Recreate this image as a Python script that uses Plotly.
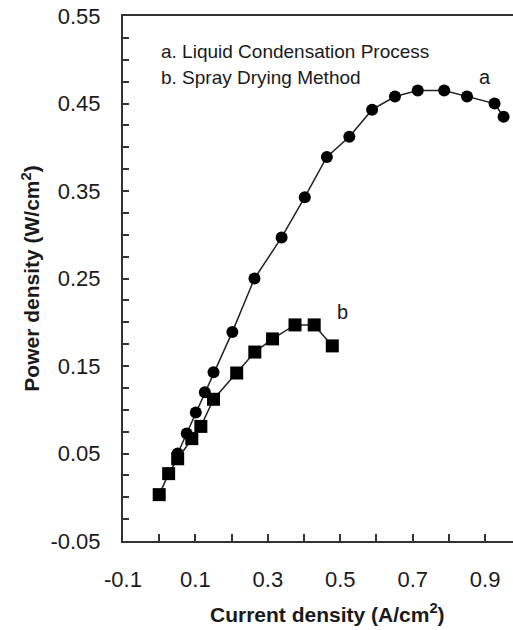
import plotly.graph_objects as go

# Series a: Liquid Condensation Process (circles)
a_x = [0.051, 0.076, 0.101, 0.126, 0.150, 0.202, 0.263, 0.338, 0.402, 0.463,
       0.525, 0.588, 0.651, 0.714, 0.787, 0.850, 0.926, 0.951]
a_y = [0.050, 0.073, 0.097, 0.120, 0.143, 0.189, 0.250, 0.297, 0.343, 0.389,
       0.412, 0.443, 0.458, 0.465, 0.465, 0.458, 0.450, 0.435]

# Series b: Spray Drying Method (squares)
b_x = [0.000, 0.026, 0.051, 0.090, 0.115, 0.150, 0.214, 0.264, 0.313, 0.375,
       0.428, 0.478]
b_y = [0.003, 0.027, 0.044, 0.067, 0.081, 0.112, 0.142, 0.166, 0.181, 0.197,
       0.197, 0.173]

x_tickvals = [-0.1, 0.1, 0.3, 0.5, 0.7, 0.9]
x_ticktext = ["-0.1", "0.1", "0.3", "0.5", "0.7", "0.9"]
y_tickvals = [-0.05, 0.05, 0.15, 0.25, 0.35, 0.45, 0.55]
y_ticktext = ["-0.05", "0.05", "0.15", "0.25", "0.35", "0.45", "0.55"]

legend_lines = ["a. Liquid Condensation Process", "b. Spray Drying Method"]

FONT = "Liberation Sans, Arial, sans-serif"
INK = "#1a1a1a"

fig = go.Figure()
fig.add_trace(go.Scatter(
    x=a_x, y=a_y, mode="lines+markers",
    line=dict(color="#222222", width=1.5),
    marker=dict(symbol="circle", size=12, color="black"),
    cliponaxis=False, showlegend=False))
fig.add_trace(go.Scatter(
    x=b_x, y=b_y, mode="lines+markers",
    line=dict(color="#222222", width=1.5),
    marker=dict(symbol="square", size=13, color="black"),
    cliponaxis=False, showlegend=False))

fig.add_annotation(x=0.0, y=0.509, xref="x", yref="y", text=legend_lines[0],
                   showarrow=False, xanchor="left", yanchor="middle",
                   font=dict(family=FONT, size=19, color=INK))
fig.add_annotation(x=0.0, y=0.480, xref="x", yref="y", text=legend_lines[1],
                   showarrow=False, xanchor="left", yanchor="middle",
                   font=dict(family=FONT, size=19, color=INK))
fig.add_annotation(x=0.9, y=0.480, xref="x", yref="y", text="a",
                   showarrow=False, xanchor="center", yanchor="middle",
                   font=dict(family=FONT, size=20, color=INK))
fig.add_annotation(x=0.505, y=0.212, xref="x", yref="y", text="b",
                   showarrow=False, xanchor="center", yanchor="middle",
                   font=dict(family=FONT, size=20, color=INK))

fig.add_annotation(x=0.524, y=-0.137, xref="paper", yref="paper",
                   text="<b>Current density (A/cm<sup>2</sup>)</b>",
                   showarrow=False, xanchor="center", yanchor="middle",
                   font=dict(family=FONT, size=21, color=INK))
fig.add_annotation(x=-0.238, y=0.50, xref="paper", yref="paper",
                   text="<b>Power density (W/cm<sup>2</sup>)</b>", textangle=-90,
                   showarrow=False, xanchor="center", yanchor="middle",
                   font=dict(family=FONT, size=21, color=INK))

fig.update_xaxes(
    range=[-0.1, 0.977], tickvals=x_tickvals, ticktext=x_ticktext,
    ticks="inside", ticklen=7, tickwidth=1.5, tickcolor="#333333",
    minor=dict(dtick=0.1, tick0=-0.1, ticks="inside", ticklen=7,
               tickwidth=1.5, tickcolor="#333333", showgrid=False),
    showline=True, linecolor="#333333", linewidth=2, mirror=True,
    showgrid=False, zeroline=False, ticklabelstandoff=18, automargin=False,
    tickfont=dict(family=FONT, size=22, color=INK))
fig.update_yaxes(
    range=[-0.05, 0.5501], tickvals=y_tickvals, ticktext=y_ticktext,
    ticks="inside", ticklen=6, tickwidth=1.5, tickcolor="#333333",
    minor=dict(dtick=0.025, tick0=-0.05, ticks="inside", ticklen=6,
               tickwidth=1.5, tickcolor="#333333", showgrid=False),
    showline=True, linecolor="#333333", linewidth=2, mirror=False,
    showgrid=False, zeroline=False, ticklabelstandoff=16, automargin=False,
    tickfont=dict(family=FONT, size=22, color=INK))

fig.update_layout(
    width=513, height=630,
    margin=dict(l=123, r=0, t=16, b=89),
    paper_bgcolor="white", plot_bgcolor="white")

# Remove the default page-body margin so the figure fills the window exactly.
fig.write_html("out.html", config={"displayModeBar": False},
               post_script="document.body.style.margin='0';")
